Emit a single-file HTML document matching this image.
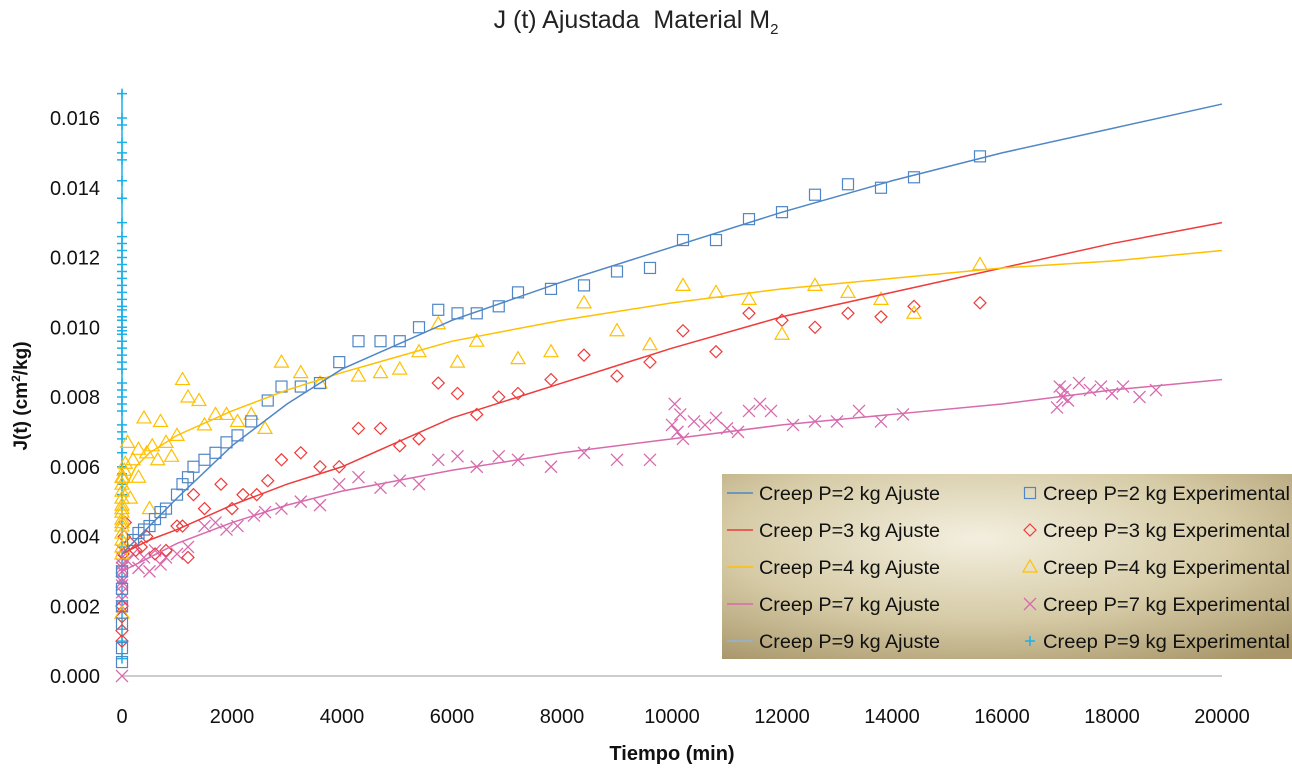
<!DOCTYPE html>
<html><head><meta charset="utf-8"><style>
body{margin:0;background:#fff;}
svg{display:block;font-family:"Liberation Sans",Arial,sans-serif;}
</style></head><body>
<svg id="chart" width="1292" height="768" viewBox="0 0 1292 768">
<defs>
<radialGradient id="lg" cx="0.45" cy="0.35" r="0.8">
<stop offset="0" stop-color="#f3efdf"/><stop offset="0.55" stop-color="#d6cba6"/><stop offset="1" stop-color="#a8966a"/>
</radialGradient>
</defs>
<text x="636" y="28" font-size="25" text-anchor="middle" fill="#222" xml:space="preserve">J (t) Ajustada  Material M<tspan font-size="15" dy="6">2</tspan></text>
<text transform="translate(27,396) rotate(-90)" font-size="19" font-weight="bold" text-anchor="middle" fill="#111">J(t) (cm<tspan font-size="12" dy="-7">2</tspan><tspan dy="7">/kg)</tspan></text>
<text x="672" y="760" font-size="20" font-weight="bold" text-anchor="middle" fill="#111">Tiempo (min)</text>
<g id="axes"></g>
<g id="marks"></g>
<g id="legend"></g>
</svg>
<script>
const xTicks=[0,2000,4000,6000,8000,10000,12000,14000,16000,18000,20000];
const yTicks=[0,0.002,0.004,0.006,0.008,0.010,0.012,0.014,0.016];
const yTickLabels=["0.000","0.002","0.004","0.006","0.008","0.010","0.012","0.014","0.016"];
const fitT=[0,250,500,1000,2000,3000,4000,6000,8000,10000,12000,14000,16000,18000,20000];
const fitP2=[0.0035,0.0039,0.0043,0.0051,0.0066,0.0078,0.0088,0.0102,0.0113,0.0123,0.0133,0.0142,0.0150,0.0157,0.0164];
const fitP3=[0.0035,0.0037,0.0039,0.0042,0.0049,0.0055,0.0060,0.0074,0.0084,0.0094,0.0103,0.0110,0.0117,0.0124,0.0130];
const fitP4=[0.0052,0.0060,0.0064,0.0069,0.0076,0.0082,0.0087,0.0096,0.0102,0.0107,0.0111,0.0114,0.0117,0.0119,0.0122];
const fitP7=[0.0030,0.0032,0.0034,0.0038,0.0044,0.0049,0.0053,0.0059,0.0064,0.0068,0.0072,0.0075,0.0078,0.0082,0.0085];
const fitP9T=[0,0];
const fitP9=[0.0005,0.0168];
const p2T=[0,0,0,0,0,0,200,300,400,500,600,700,800,1000,1100,1200,1300,1500,1700,1900,2100,2350,2650,2900,3250,3600,3950,4300,4700,5050,5400,5750,6100,6450,6850,7200,7800,8400,9000,9600,10200,10800,11400,12000,12600,13200,13800,14400,15600];
const p2J=[0.0004,0.0008,0.0015,0.002,0.0025,0.003,0.0039,0.0041,0.0042,0.0043,0.0045,0.0047,0.0048,0.0052,0.0055,0.0057,0.0060,0.0062,0.0064,0.0067,0.0069,0.0073,0.0079,0.0083,0.0083,0.0084,0.0090,0.0096,0.0096,0.0096,0.0100,0.0105,0.0104,0.0104,0.0106,0.0110,0.0111,0.0112,0.0116,0.0117,0.0125,0.0125,0.0131,0.0133,0.0138,0.0141,0.0140,0.0143,0.0149];
const p3T=[0,0,0,0,20,40,60,150,250,350,450,600,800,1000,1100,1200,1300,1500,1800,2000,2200,2450,2650,2900,3250,3600,3950,4300,4700,5050,5400,5750,6100,6450,6850,7200,7800,8400,9000,9600,10200,10800,11400,12000,12600,13200,13800,14400,15600];
const p3J=[0.0010,0.0013,0.0017,0.0020,0.0035,0.0040,0.0044,0.0038,0.0036,0.0037,0.0040,0.0035,0.0036,0.0043,0.0043,0.0034,0.0052,0.0048,0.0055,0.0048,0.0052,0.0052,0.0056,0.0062,0.0064,0.0060,0.0060,0.0071,0.0071,0.0066,0.0068,0.0084,0.0081,0.0075,0.0080,0.0081,0.0085,0.0092,0.0086,0.0090,0.0099,0.0093,0.0104,0.0102,0.0100,0.0104,0.0103,0.0106,0.0107];
const p4T=[0,0,0,0,0,0,0,0,0,0,0,0,0,0,0,20,40,60,100,150,200,300,300,400,450,500,550,650,700,800,900,1000,1100,1200,1400,1500,1700,1900,2100,2350,2600,2900,3250,3600,4300,4700,5050,5400,5750,6100,6450,7200,7800,8400,9000,9600,10200,10800,11400,12000,12600,13200,13800,14400,15600];
const p4J=[0.0018,0.0035,0.0037,0.0039,0.0041,0.0043,0.0045,0.0047,0.0049,0.0051,0.0053,0.0055,0.0057,0.0044,0.0048,0.0057,0.0059,0.0061,0.0067,0.0051,0.0062,0.0065,0.0057,0.0074,0.0064,0.0048,0.0066,0.0062,0.0073,0.0067,0.0063,0.0069,0.0085,0.0080,0.0079,0.0072,0.0075,0.0075,0.0073,0.0075,0.0071,0.0090,0.0087,0.0084,0.0086,0.0087,0.0088,0.0093,0.0101,0.0090,0.0096,0.0091,0.0093,0.0107,0.0099,0.0095,0.0112,0.0110,0.0108,0.0098,0.0112,0.0110,0.0108,0.0104,0.0118];
const p7T=[0,0,0,0,0,0,0,0,0,0,0,0,100,200,300,400,500,600,700,800,1000,1200,1500,1700,1900,2100,2400,2600,2900,3250,3600,3950,4300,4700,5050,5400,5750,6100,6450,6850,7200,7800,8400,9000,9600,10000,10050,10100,10150,10200,10400,10600,10800,11000,11200,11400,11600,11800,12200,12600,13000,13400,13800,14200,17000,17050,17100,17150,17200,17400,17600,17800,18000,18200,18500,18800];
const p7J=[0,0.0020,0.0022,0.0024,0.0026,0.0028,0.0030,0.0032,0.0034,0.0036,0.0027,0.0031,0.0033,0.0035,0.0031,0.0034,0.0030,0.0036,0.0032,0.0034,0.0035,0.0037,0.0043,0.0044,0.0042,0.0043,0.0046,0.0047,0.0048,0.0050,0.0049,0.0055,0.0057,0.0054,0.0056,0.0055,0.0062,0.0063,0.0060,0.0063,0.0062,0.0060,0.0064,0.0062,0.0062,0.0072,0.0078,0.0070,0.0075,0.0068,0.0073,0.0072,0.0074,0.0071,0.0070,0.0076,0.0078,0.0076,0.0072,0.0073,0.0073,0.0076,0.0073,0.0075,0.0077,0.0083,0.0080,0.0082,0.0079,0.0084,0.0082,0.0083,0.0081,0.0083,0.0080,0.0082];
const p9T=[0,0,0,0,0,0,0,0,0,0,0,0,0,0,0,0,0,0,0,0,0,0,0,0,0,0,0,0,0,0,0,0,0,0,0,0,0,0,0,0,0,0,0,0,0,0,0,0];
const p9J=[0.0005,0.0010,0.0027,0.0037,0.0052,0.0055,0.0058,0.0060,0.0064,0.0068,0.0070,0.0072,0.0076,0.0078,0.0080,0.0082,0.0084,0.0088,0.0090,0.0092,0.0094,0.0096,0.0098,0.0099,0.0100,0.0102,0.0103,0.0105,0.0106,0.0108,0.0110,0.0112,0.0114,0.0116,0.0118,0.0120,0.0122,0.0124,0.0126,0.0130,0.0137,0.0142,0.0148,0.0150,0.0153,0.0158,0.0160,0.0167];

const X0=122,XW=1100,XMAX=20000,Y0=676,YH=558,YMAX=0.016;
function sx(t){return X0+t/XMAX*XW;}
function sy(j){return Y0-j/YMAX*YH;}
const NS="http://www.w3.org/2000/svg";
function mk(tag,attrs,parent){const e=document.createElementNS(NS,tag);for(const k in attrs)e.setAttribute(k,attrs[k]);parent.appendChild(e);return e;}
const axes=document.getElementById('axes'),marks=document.getElementById('marks'),leg=document.getElementById('legend');
const xl=mk('line',{x1:X0,x2:X0+XW,y1:Y0,y2:Y0,stroke:'#bbb','stroke-width':1.5},axes);


xTicks.forEach(v=>{const t=mk('text',{x:sx(v),y:723,'font-size':20,'text-anchor':'middle',fill:'#111'},axes);t.textContent=v;

});
yTicks.forEach((v,i)=>{const t=mk('text',{x:100,y:sy(v)+7,'font-size':20,'text-anchor':'end',fill:'#111'},axes);t.textContent=yTickLabels[i];

});

function marker(type,x,y,col,g){
 let e;
 if(type==='sq') e=mk('rect',{x:x-5.5,y:y-5.5,width:11,height:11,fill:'none',stroke:col,'stroke-width':1.2},g);
 else if(type==='di') e=mk('path',{d:`M${x} ${y-6}L${x+6} ${y}L${x} ${y+6}L${x-6} ${y}Z`,fill:'none',stroke:col,'stroke-width':1.2},g);
 else if(type==='tr') e=mk('path',{d:`M${x} ${y-7}L${x+7} ${y+5}L${x-7} ${y+5}Z`,fill:'none',stroke:col,'stroke-width':1.2},g);
 else if(type==='x') e=mk('path',{d:`M${x-6} ${y-6}L${x+6} ${y+6}M${x-6} ${y+6}L${x+6} ${y-6}`,fill:'none',stroke:col,'stroke-width':1.3},g);
 else e=mk('path',{d:`M${x-5} ${y}L${x+5} ${y}M${x} ${y-5}L${x} ${y+5}`,fill:'none',stroke:col,'stroke-width':1.5},g);
 return e;
}
const C2='#4f86c6',C3='#ee3b3b',C4='#ffc000',C7='#d86aae',C9='#1ab0e8';
function line(T,J,col,name){const p=mk('polyline',{points:T.map((t,i)=>sx(t)+','+sy(J[i])).join(' '),fill:'none',stroke:col,'stroke-width':1.5},marks);

}
function pts(T,J,type,col,name){const g=mk('g',{},marks);


T.forEach((t,i)=>marker(type,sx(t),sy(J[i]),col,g));}
line(fitP9T,fitP9,C9,'p9-fit-line');
pts(p9T,p9J,'pl',C9,'p9-experimental-points');
pts(p7T,p7J,'x',C7,'p7-experimental-points');
pts(p3T,p3J,'di',C3,'p3-experimental-points');
pts(p4T,p4J,'tr',C4,'p4-experimental-points');
pts(p2T,p2J,'sq',C2,'p2-experimental-points');
line(fitT,fitP7,C7,'p7-fit-line');
line(fitT,fitP3,C3,'p3-fit-line');
line(fitT,fitP4,C4,'p4-fit-line');
line(fitT,fitP2,C2,'p2-fit-line');

const lb=mk('rect',{x:722,y:474,width:570,height:185,fill:'url(#lg)'},leg);


const names=['2','3','4','7','9'],cols=[C2,C3,C4,C7,'#8fb3d9'],mcols=[C2,C3,C4,C7,C9],types=['sq','di','tr','x','pl'];
names.forEach((n,i)=>{const y=493+i*37;
 const l=mk('line',{x1:727,x2:753,y1:y,y2:y,stroke:cols[i],'stroke-width':1.5},leg);
 
 
 const t=mk('text',{x:759,y:y+7,'font-size':19.5,fill:'#111',textLength:181,lengthAdjust:'spacingAndGlyphs'},leg);t.textContent='Creep P='+n+' kg Ajuste';
 
 
 const m=marker(types[i],1030,y,mcols[i],leg);
 
 
 const t2=mk('text',{x:1043,y:y+7,'font-size':19.5,fill:'#111',textLength:247,lengthAdjust:'spacingAndGlyphs'},leg);t2.textContent='Creep P='+n+' kg Experimental';
 
 
});
</script>
</body></html>
